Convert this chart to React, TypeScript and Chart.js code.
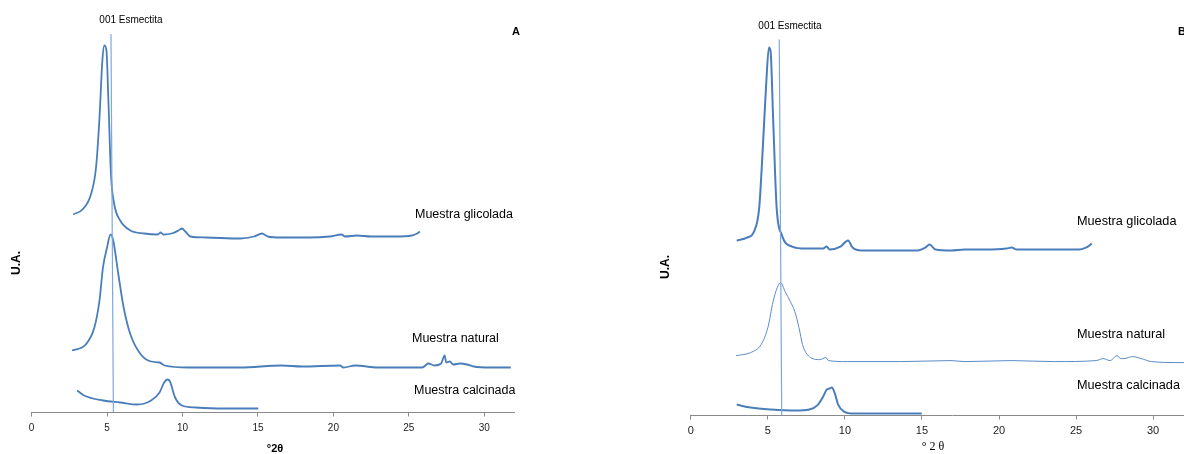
import React, { useEffect, useRef } from "react";
import { Chart, registerables } from "chart.js";

Chart.register(...registerables);

// ---------- Panel A data (°2θ vs U.A.) ----------
const aGlicoladaX = [2.75, 3.37, 3.93, 4.27, 4.5, 4.69, 4.82, 4.96, 5.09, 5.26, 5.48, 5.87, 6.55, 7.46, 8.37, 8.55, 8.73, 9.28, 9.73, 9.96, 10.19, 10.53, 11.56, 13.83, 14.74, 15.27, 15.65, 16.56, 18.38, 19.75, 20.55, 20.77, 21.57, 22.48, 24.07, 25.2, 25.55, 25.73];
const aGlicoladaY = [198, 203, 218, 245, 295, 352, 367, 362, 312, 238, 208, 192, 182, 179, 178, 180, 178, 179, 182, 184, 181, 176, 175, 174, 176, 179, 176, 175, 175, 176, 178, 176, 177, 176, 176, 177, 179, 181];

const aNaturalX = [2.68, 3.59, 4.16, 4.5, 4.73, 5.0, 5.23, 5.41, 5.75, 6.1, 6.55, 7.24, 7.92, 8.48, 8.82, 10.42, 13.83, 16.56, 17.93, 20.43, 20.66, 21.45, 22.94, 25.89, 26.3, 26.69, 27.14, 27.37, 27.48, 27.71, 27.94, 28.39, 28.85, 29.3, 30.44, 31.76];
const aNaturalY = [62, 68, 85, 112, 145, 165, 178, 172, 138, 105, 78, 58, 51, 50, 47, 45, 45, 47, 46, 47, 45, 47, 45, 45, 49, 47, 49, 57, 50, 51, 48, 49, 48, 46, 45, 45];

const aCalcinadaX = [3.02, 3.48, 4.73, 5.87, 7.0, 7.92, 8.48, 8.78, 9.01, 9.17, 9.51, 9.96, 10.87, 12.7, 15.02];
const aCalcinadaY = [22, 17, 12, 10, 8, 12, 20, 30, 33, 31, 15, 7, 5, 4, 4];

const aSmectiteX = [5.26, 5.42];
const aSmectiteY = [378.5, 0];

// ---------- Panel B data ----------
const bGlicoladaX = [2.98, 3.65, 4.1, 4.44, 4.66, 4.89, 5.07, 5.18, 5.34, 5.57, 5.9, 6.57, 7.47, 8.59, 8.82, 9.0, 9.71, 10.2, 10.5, 11.06, 14.65, 15.21, 15.5, 15.88, 16.89, 17.79, 19.13, 20.48, 20.82, 21.15, 22.5, 25.19, 25.64, 25.86, 26.02];
const bGlicoladaY = [175, 178, 184, 208, 264, 331, 368, 364, 298, 208, 181, 169, 167, 167, 169, 166, 169, 175, 168, 165, 165, 168, 171, 166, 165, 166, 166, 167, 168, 166, 166, 166, 168, 170, 172];

const bNaturalX = [2.94, 3.88, 4.56, 5.0, 5.34, 5.61, 5.83, 6.12, 6.46, 6.75, 7.02, 7.25, 7.69, 8.37, 8.77, 8.93, 10.16, 13.53, 16.89, 17.79, 20.77, 23.62, 26.31, 26.76, 27.21, 27.66, 27.88, 28.11, 28.67, 29.23, 29.9, 31.88, 33.8];
const bNaturalY = [60, 63, 71, 88, 114, 128, 133, 124, 114, 104, 88, 71, 59, 56, 58, 55, 54, 54, 55, 54, 55, 54, 55, 57, 55, 60, 57, 57, 59, 57, 54, 53, 53];

const bCalcinadaX = [2.98, 3.88, 5.23, 6.8, 7.69, 8.26, 8.59, 8.82, 9.0, 9.15, 9.33, 9.56, 9.94, 10.61, 14.99];
const bCalcinadaY = [11, 8, 6, 5, 6, 11, 19, 26, 27, 28, 23, 11, 4, 2, 2];

const bSmectiteX = [5.74, 5.9];
const bSmectiteY = [376, 0];

const xTickValues = [0, 5, 10, 15, 20, 25, 30];
const seriesLabels = ["Muestra glicolada", "Muestra natural", "Muestra calcinada"];
const peakLabel = "001 Esmectita";
const yLabel = "U.A.";

const LINE = "#4a7ebb";
const VLINE = "#7ea8dc";
const AXIS = "#8a8a8a";
const SANS = "'Liberation Sans', Arial, sans-serif";

const pts = (xs: number[], ys: number[]) => xs.map((x, i) => ({ x, y: ys[i] }));

type Txt = { text: string; x: number; y: number; font: string; align?: CanvasTextAlign; rotate?: boolean; color?: string };

const textPlugin = (texts: Txt[]) => ({
  id: "texts",
  afterDraw(chart: any) {
    const ctx = chart.ctx;
    ctx.save();
    ctx.textBaseline = "middle";
    for (const t of texts) {
      ctx.save();
      ctx.font = t.font;
      ctx.fillStyle = t.color || "#000";
      ctx.textAlign = t.align || "left";
      ctx.translate(t.x, t.y);
      if (t.rotate) ctx.rotate(-Math.PI / 2);
      ctx.fillText(t.text, 0, 0);
      ctx.restore();
    }
    ctx.restore();
  },
});

type PanelCfg = {
  width: number;
  height: number;
  left: number;
  x0: number; // pixel of x=0 inside canvas
  unit: number; // px per degree
  xMax: number;
  axisY: number;
  top: number;
  tickFont: number;
  tickPad: number;
  datasets: any[];
  texts: Txt[];
};

function Panel({ cfg }: { cfg: PanelCfg }) {
  const ref = useRef<HTMLCanvasElement | null>(null);
  useEffect(() => {
    if (!ref.current) return;
    const rightEdge = cfg.x0 + cfg.xMax * cfg.unit;
    const chart = new Chart(ref.current, {
      type: "line",
      data: { datasets: cfg.datasets },
      options: {
        responsive: false,
        animation: false,
        events: [],
        layout: {
          padding: { left: cfg.x0, right: cfg.width - rightEdge, top: cfg.top, bottom: 0 },
        },
        plugins: { legend: { display: false }, tooltip: { enabled: false } },
        elements: { point: { radius: 0 } },
        scales: {
          x: {
            type: "linear",
            min: 0,
            max: cfg.xMax,
            afterBuildTicks: (scale: any) => {
              scale.ticks = xTickValues.map((v) => ({ value: v }));
            },
            afterFit: (scale: any) => {
              scale.height = cfg.height - cfg.axisY;
              scale.paddingLeft = 0;
              scale.paddingRight = 0;
            },
            grid: { drawOnChartArea: false, drawTicks: true, tickLength: 4, color: AXIS, lineWidth: 1 },
            border: { display: true, color: AXIS, width: 1 },
            ticks: {
              color: "#222",
              font: { family: SANS, size: cfg.tickFont },
              padding: cfg.tickPad,
              maxRotation: 0,
              autoSkip: false,
            },
          },
          y: {
            type: "linear",
            display: false,
            min: 0,
            max: cfg.axisY - cfg.top,
          },
        },
      } as any,
      plugins: [textPlugin(cfg.texts)],
    });
    return () => chart.destroy();
  }, [cfg]);
  return (
    <canvas
      ref={ref}
      width={cfg.width}
      height={cfg.height}
      style={{ position: "absolute", left: cfg.left, top: 0, width: cfg.width, height: cfg.height }}
    />
  );
}

const lineDs = (xs: number[], ys: number[], width: number, color = LINE) => ({
  data: pts(xs, ys),
  borderColor: color,
  borderWidth: width,
  pointRadius: 0,
  fill: false,
  tension: 0,
  cubicInterpolationMode: "monotone",
});

const panelA: PanelCfg = {
  width: 560,
  height: 454,
  left: 0,
  x0: 31.6,
  unit: 15.09,
  xMax: 32,
  axisY: 412.5,
  top: 20,
  tickFont: 10,
  tickPad: 6,
  datasets: [
    { ...lineDs(aSmectiteX, aSmectiteY, 1.2, VLINE), cubicInterpolationMode: "default" },
    lineDs(aGlicoladaX, aGlicoladaY, 1.8),
    lineDs(aNaturalX, aNaturalY, 1.8),
    lineDs(aCalcinadaX, aCalcinadaY, 1.8),
  ],
  texts: [
    { text: peakLabel, x: 131, y: 20, font: `10px ${SANS}`, align: "center" },
    { text: "A", x: 516, y: 32, font: `bold 11px ${SANS}`, align: "center" },
    { text: seriesLabels[0], x: 415, y: 215, font: `12.5px ${SANS}` },
    { text: seriesLabels[1], x: 412, y: 339, font: `12.5px ${SANS}` },
    { text: seriesLabels[2], x: 414, y: 391, font: `12.5px ${SANS}` },
    { text: yLabel, x: 17, y: 263, font: `bold 12px ${SANS}`, align: "center", rotate: true },
    { text: "°2θ", x: 275, y: 449, font: `bold 11px ${SANS}`, align: "center" },
  ],
};

const panelB: PanelCfg = {
  width: 640,
  height: 454,
  left: 600,
  x0: 90.8,
  unit: 15.41,
  xMax: 34,
  axisY: 415.6,
  top: 20,
  tickFont: 11,
  tickPad: 5,
  datasets: [
    { ...lineDs(bSmectiteX, bSmectiteY, 1.2, VLINE), cubicInterpolationMode: "default" },
    lineDs(bGlicoladaX, bGlicoladaY, 2),
    lineDs(bNaturalX, bNaturalY, 1, "#5a8ac8"),
    lineDs(bCalcinadaX, bCalcinadaY, 2),
  ],
  texts: [
    { text: peakLabel, x: 190, y: 26, font: `10px ${SANS}`, align: "center" },
    { text: "B", x: 578, y: 32, font: `bold 11px ${SANS}` },
    { text: seriesLabels[0], x: 477, y: 221, font: `12.7px ${SANS}` },
    { text: seriesLabels[1], x: 477, y: 334, font: `12.7px ${SANS}` },
    { text: seriesLabels[2], x: 477, y: 385, font: `12.7px ${SANS}` },
    { text: yLabel, x: 66, y: 267, font: `bold 12px ${SANS}`, align: "center", rotate: true },
    { text: "° 2 θ", x: 333, y: 447, font: `12px 'Liberation Serif', 'Times New Roman', serif`, align: "center" },
  ],
};

export default function App() {
  return (
    <div
      style={{
        position: "fixed",
        left: 0,
        top: 0,
        width: 1184,
        height: 454,
        overflow: "hidden",
        background: "#fff",
      }}
    >
      <Panel cfg={panelA} />
      <Panel cfg={panelB} />
    </div>
  );
}
